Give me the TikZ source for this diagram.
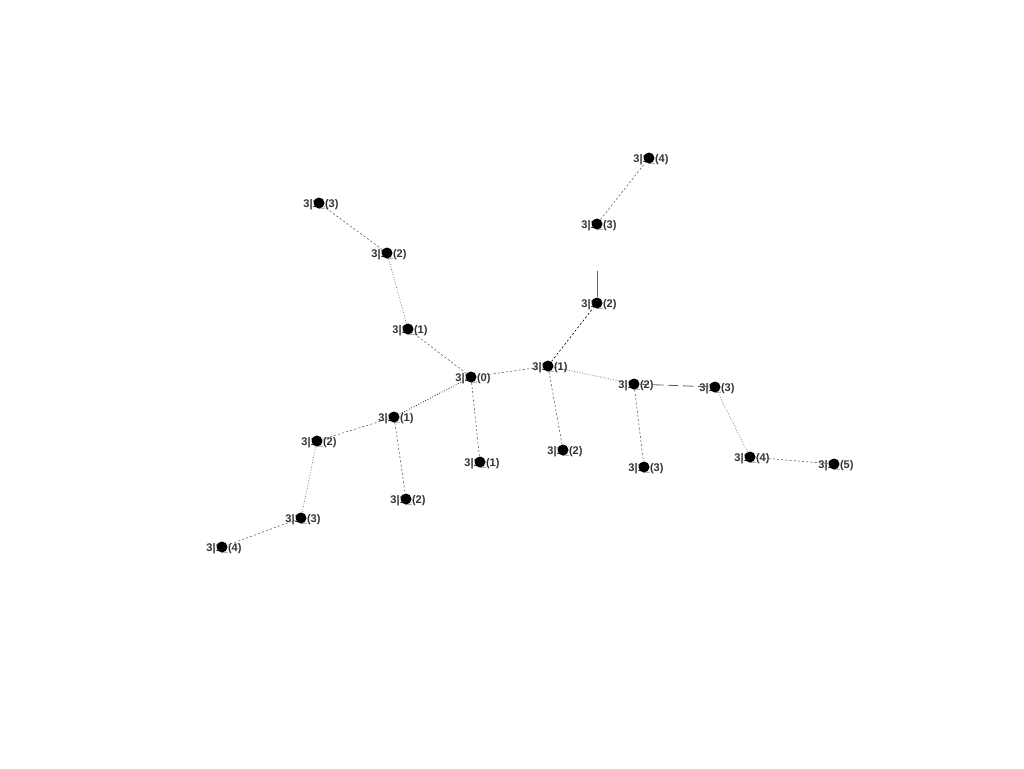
\documentclass[tikz,border=0pt]{standalone}
\usepackage{fontspec}
\setmainfont{Liberation Sans}
\tikzset{
  dot/.style={circle,fill=black,inner sep=0pt,minimum size=0.22cm},
  lbl/.style={font=\fontsize{6.3}{6.3}\selectfont\bfseries,text=black!80,inner sep=0pt},
  fine/.style={gray!80!black,line width=0.35pt,dash pattern=on 1.2pt off 1.2pt},
  dots/.style={gray!80!black,line width=0.35pt,dash pattern=on 0.5pt off 1pt},
  longdash/.style={gray!70!black,line width=0.45pt,dash pattern=on 6pt off 2.5pt,dash phase=1pt},
}
\newcommand{\tnode}[4]{% name, x, y, index
  \node[lbl] at (#2+2,#3+2) {3|1\_(#4)};
  \node[dot] (#1) at (#2,#3) {};
}
\begin{document}
\begin{tikzpicture}[x=0.02cm,y=-0.02cm]
\useasboundingbox (0,0) rectangle (1024,768);

%vertices
\tnode{c0}{471}{377}{0}
\tnode{a1}{408}{329}{1}
\tnode{a2}{387}{253}{2}
\tnode{a3}{319}{203}{3}
\tnode{b1}{548}{366}{1}
\tnode{b2}{597}{303}{2}
\tnode{b3}{597}{224}{3}
\tnode{b4}{649}{158}{4}
\tnode{d2}{634}{384}{2}
\tnode{d3}{715}{387}{3}
\tnode{d4}{750}{457}{4}
\tnode{d5}{834}{464}{5}
\tnode{e3}{644}{467}{3}
\tnode{f2}{563}{450}{2}
\tnode{g1}{480}{462}{1}
\tnode{h1}{394}{417}{1}
\tnode{h2}{317}{441}{2}
\tnode{h3}{301}{518}{3}
\tnode{h4}{222}{547}{4}
\tnode{i2}{406}{499}{2}
\coordinate (b2top) at (597,271);

%edges
\draw[fine] (c0)--(a1);
\draw[dots] (a1)--(a2);
\draw[fine] (a2)--(a3);
\draw[fine] (c0)--(b1);
\draw[fine,black] (b1)--(b2);
\draw[gray!80!black,line width=0.4pt] (b2)--(b2top); %stub
\draw[fine] (b3)--(b4);
\draw[dots] (b1)--(d2);
\draw[longdash] (d2)--(d3);
\draw[dots] (d3)--(d4);
\draw[fine] (d4)--(d5);
\draw[fine] (d2)--(e3);
\draw[fine] (b1)--(f2);
\draw[fine] (c0)--(g1);
\draw[dots,black] (c0)--(h1);
\draw[fine] (h1)--(h2);
\draw[dots] (h2)--(h3);
\draw[fine] (h3)--(h4);
\draw[fine] (h1)--(i2);

\end{tikzpicture}
\end{document}
